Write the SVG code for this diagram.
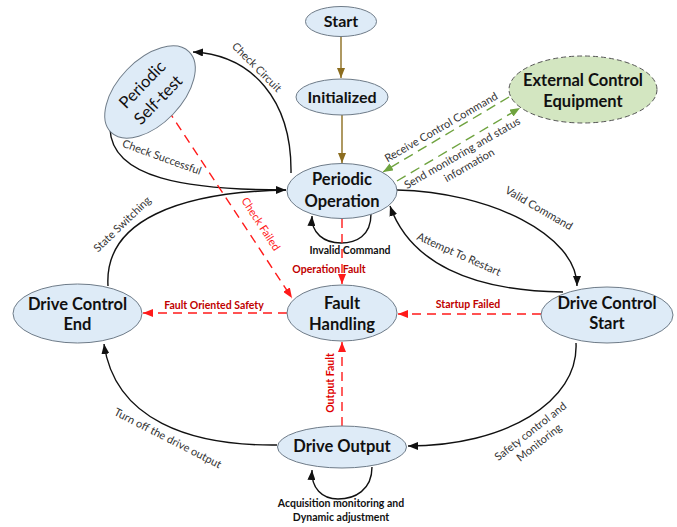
<svg xmlns="http://www.w3.org/2000/svg" width="677" height="527" viewBox="0 0 677 527">
  <style>
    .node { fill: #deebf7; stroke: #6e7b88; stroke-width: 1; }
    .ext { fill: #d3e6c1; stroke: #555; stroke-width: 1; stroke-dasharray: 5 3; }
    .ntext { font-family: Lato, "Open Sans", sans-serif; font-weight: bold; font-size: 16.5px; fill: #111; text-anchor: middle; }
    .edge { fill: none; stroke: #111; stroke-width: 1.4; }
    .olive { fill: none; stroke: #8c6d1f; stroke-width: 1.4; }
    .red { fill: none; stroke: #ff1a1a; stroke-width: 1.4; stroke-dasharray: 9 6; }
    .green { fill: none; stroke: #6fa33f; stroke-width: 1.4; stroke-dasharray: 10 6; }
    .lbl { font-family: Lato, "Open Sans", sans-serif; font-size: 11px; fill: #333; text-anchor: middle; }
    .blbl { font-family: Lato, "Open Sans", sans-serif; font-size: 10.5px; font-weight: bold; fill: #111; text-anchor: middle; }
    .rlbl { font-family: Lato, "Open Sans", sans-serif; font-size: 10.5px; font-weight: bold; fill: #c00000; text-anchor: middle; }
  </style>
  <defs>
    <marker id="ahBlack" markerUnits="userSpaceOnUse" markerWidth="10" markerHeight="8" refX="10" refY="4" orient="auto">
      <path d="M0,0 L10,4 L0,8 z" fill="#111"/>
    </marker>
    <marker id="ahRed" markerUnits="userSpaceOnUse" markerWidth="10" markerHeight="8" refX="10" refY="4" orient="auto">
      <path d="M0,0 L10,4 L0,8 z" fill="#ff1a1a"/>
    </marker>
    <marker id="ahGreen" markerUnits="userSpaceOnUse" markerWidth="10" markerHeight="8" refX="10" refY="4" orient="auto">
      <path d="M0,0 L10,4 L0,8 z" fill="#6fa33f"/>
    </marker>
    <marker id="ahOlive" markerUnits="userSpaceOnUse" markerWidth="10" markerHeight="8" refX="10" refY="4" orient="auto">
      <path d="M0,0 L10,4 L0,8 z" fill="#8c6d1f"/>
    </marker>
  </defs>

  <rect width="677" height="527" fill="#ffffff"/>

  <!-- connectors -->
  <g id="connectors">
    <path class="olive" d="M341 37 L341 78" marker-end="url(#ahOlive)"/>
    <path class="olive" d="M342 115 L342 163" marker-end="url(#ahOlive)"/>

    <!-- check circuit -->
    <path class="edge" d="M291 173 C292 100 252 55 193 52" marker-end="url(#ahBlack)"/>
    <!-- check successful -->
    <path class="edge" d="M110 129 C112 178 185 190 286 190" marker-end="url(#ahBlack)"/>
    <!-- state switching -->
    <path class="edge" d="M108 286 C104 220 180 192 286 190"/>
    <!-- check failed -->
    <path class="red" d="M168 110 L292 298" marker-end="url(#ahRed)"/>

    <!-- invalid command loop -->
    <path class="edge" d="M371 214 C371 236 356 243 341 243 C324 243 311 233 312 216" marker-end="url(#ahBlack)"/>
    <!-- operation fault -->
    <path class="red" d="M342 219 L342 284" marker-end="url(#ahRed)"/>

    <!-- valid command -->
    <path class="edge" d="M397 190 C490 192 577 235 577 286" marker-end="url(#ahBlack)"/>
    <!-- attempt to restart -->
    <path class="edge" d="M563 292 C470 291 410 262 390 206" marker-end="url(#ahBlack)"/>

    <!-- startup failed / fault oriented safety -->
    <path class="red" d="M541 314 L398 314" marker-end="url(#ahRed)"/>
    <path class="red" d="M287 313 L143 313" marker-end="url(#ahRed)"/>
    <!-- output fault -->
    <path class="red" d="M342 426 L342 342" marker-end="url(#ahRed)"/>

    <!-- safety control and monitoring -->
    <path class="edge" d="M576 343 C579 402 505 446 408 446" marker-end="url(#ahBlack)"/>
    <!-- turn off the drive output -->
    <path class="edge" d="M277 445 C190 446 115 420 104 344" marker-end="url(#ahBlack)"/>
    <!-- acquisition loop -->
    <path class="edge" d="M372 467 C372 490 355 499 338 499 C322 499 311 488 312 470" marker-end="url(#ahBlack)"/>

    <!-- external control links -->
    <path class="green" d="M509 97 L383 172" marker-end="url(#ahGreen)"/>
    <path class="green" d="M397 181 L520 108" marker-end="url(#ahGreen)"/>
  </g>

  <!-- connector labels -->
  <g id="labels">
    <text class="lbl" transform="translate(257 67) rotate(45)" y="4">Check Circuit</text>
    <text class="lbl" transform="translate(162 157) rotate(20)" y="4">Check Successful</text>
    <text class="lbl" transform="translate(122 224) rotate(-44)" y="4">State Switching</text>
    <text class="lbl" style="fill:#ff1a1a" transform="translate(261 224) rotate(57)" y="4">Check Failed</text>
    <text class="blbl" x="350" y="254">Invalid Command</text>
    <text class="rlbl" x="329" y="273">Operation Fault</text>
    <text class="lbl" transform="translate(539 208) rotate(30)" y="4">Valid Command</text>
    <text class="lbl" transform="translate(459 254) rotate(24)" y="4">Attempt To Restart</text>
    <text class="rlbl" x="468" y="308">Startup Failed</text>
    <text class="rlbl" x="214" y="309">Fault Oriented Safety</text>
    <text class="rlbl" style="fill:#e00000" transform="translate(330 383) rotate(-90)" y="4">Output Fault</text>
    <g transform="translate(534 436) rotate(-38)">
      <text class="lbl" y="-2">Safety control and</text>
      <text class="lbl" y="12">Monitoring</text>
    </g>
    <text class="lbl" transform="translate(168 438) rotate(27)" y="4">Turn off the drive output</text>
    <text class="blbl" x="341" y="507">Acquisition monitoring and</text>
    <text class="blbl" x="341" y="521">Dynamic adjustment</text>
    <text class="lbl" transform="translate(441 127) rotate(-30)" y="4">Receive Control Command</text>
    <g transform="translate(465 158) rotate(-30)">
      <text class="lbl" y="-2">Send monitoring and status</text>
      <text class="lbl" y="12">information</text>
    </g>
  </g>

  <!-- states -->
  <g id="start">
    <ellipse class="node" cx="341" cy="21.5" rx="35.5" ry="15"/>
    <text class="ntext" x="341" y="27" style="font-size:16px">Start</text>
  </g>
  <g id="initialized">
    <ellipse class="node" cx="342" cy="97" rx="46" ry="18"/>
    <text class="ntext" x="342" y="103" style="font-size:16px">Initialized</text>
  </g>
  <g id="periodic-self-test">
    <ellipse class="node" cx="150" cy="92" rx="56" ry="32" transform="rotate(-46 150 92)"/>
    <g transform="translate(150 92) rotate(-46)">
      <text class="ntext" style="font-weight:normal" y="-5">Periodic</text>
      <text class="ntext" style="font-weight:normal" y="17">Self-test</text>
    </g>
  </g>
  <g id="periodic-operation">
    <ellipse class="node" cx="342" cy="191" rx="55" ry="27.5"/>
    <text class="ntext" x="342" y="185">Periodic</text>
    <text class="ntext" x="342" y="207">Operation</text>
  </g>
  <g id="external-control-equipment">
    <ellipse class="ext" cx="583" cy="89.5" rx="74" ry="33.5"/>
    <text class="ntext" x="583" y="86">External Control</text>
    <text class="ntext" x="583" y="107">Equipment</text>
  </g>
  <g id="fault-handling">
    <ellipse class="node" cx="342" cy="313" rx="55" ry="28"/>
    <text class="ntext" x="342" y="309">Fault</text>
    <text class="ntext" x="342" y="330">Handling</text>
  </g>
  <g id="drive-control-end">
    <ellipse class="node" cx="77.5" cy="313.5" rx="64.5" ry="29.5"/>
    <text class="ntext" x="77.5" y="310">Drive Control</text>
    <text class="ntext" x="77.5" y="330">End</text>
  </g>
  <g id="drive-control-start">
    <ellipse class="node" cx="607" cy="315" rx="66" ry="28"/>
    <text class="ntext" x="607" y="309">Drive Control</text>
    <text class="ntext" x="607" y="329">Start</text>
  </g>
  <g id="drive-output">
    <ellipse class="node" cx="342" cy="447" rx="64.5" ry="21"/>
    <text class="ntext" x="342" y="452">Drive Output</text>
  </g>
</svg>
